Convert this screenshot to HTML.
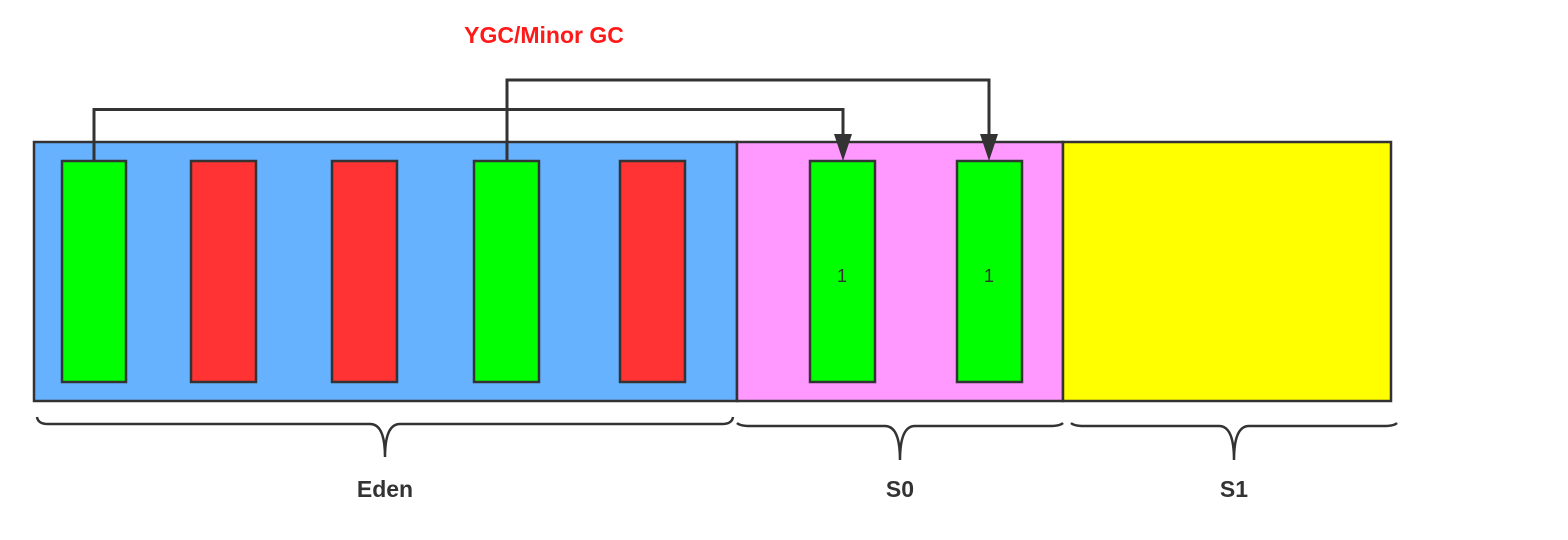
<!DOCTYPE html>
<html><head><meta charset="utf-8"><style>
html,body{margin:0;padding:0;background:#fff;width:1568px;height:540px;overflow:hidden}
text{font-family:"Liberation Sans",sans-serif}
</style></head><body>
<svg width="1568" height="540" viewBox="0 0 1568 540">
<text x="544" y="43" text-anchor="middle" font-size="23" font-weight="bold" fill="#ff1a1a">YGC/Minor GC</text>
<rect x="34" y="142" width="703" height="259" fill="#66b2ff" stroke="#333" stroke-width="2.5"/>
<rect x="737" y="142" width="326" height="259" fill="#ff99ff" stroke="#333" stroke-width="2.5"/>
<rect x="1063" y="142" width="328" height="259" fill="#ffff00" stroke="#333" stroke-width="2.5"/>
<g stroke="#333" stroke-width="2.5">
<rect x="62" y="161" width="64" height="221" fill="#00ff00"/>
<rect x="191" y="161" width="65" height="221" fill="#ff3333"/>
<rect x="332" y="161" width="65" height="221" fill="#ff3333"/>
<rect x="474" y="161" width="65" height="221" fill="#00ff00"/>
<rect x="620" y="161" width="65" height="221" fill="#ff3333"/>
<rect x="810" y="161" width="65" height="221" fill="#00ff00"/>
<rect x="957" y="161" width="65" height="221" fill="#00ff00"/>
</g>
<text x="842" y="282" text-anchor="middle" font-size="18" fill="#333">1</text>
<text x="989" y="282" text-anchor="middle" font-size="18" fill="#333">1</text>
<g fill="none" stroke="#333" stroke-width="3">
<path d="M94 161 V109.5 H843 V136"/>
<path d="M507 161 V80 H989 V136"/>
</g>
<g fill="#333">
<path d="M834 134 L852 134 L843 161 Z"/>
<path d="M980 134 L998 134 L989 161 Z"/>
</g>
<g fill="none" stroke="#333" stroke-width="2.5">
<path d="M37 417 Q38 424 48 424 H370 Q385 424 385 457 Q385 424 400 424 H722 Q732 424 733 417"/>
<path d="M737 423 Q740 426 750 426 H885 Q900 426 900 460 Q900 426 915 426 H1050 Q1060 426 1063 423"/>
<path d="M1071 423 Q1074 426 1084 426 H1219 Q1234 426 1234 460 Q1234 426 1249 426 H1384 Q1394 426 1397 423"/>
</g>
<text x="385" y="497" text-anchor="middle" font-size="23" font-weight="bold" fill="#333">Eden</text>
<text x="900" y="497" text-anchor="middle" font-size="23" font-weight="bold" fill="#333">S0</text>
<text x="1234" y="497" text-anchor="middle" font-size="23" font-weight="bold" fill="#333">S1</text>
</svg>
</body></html>
